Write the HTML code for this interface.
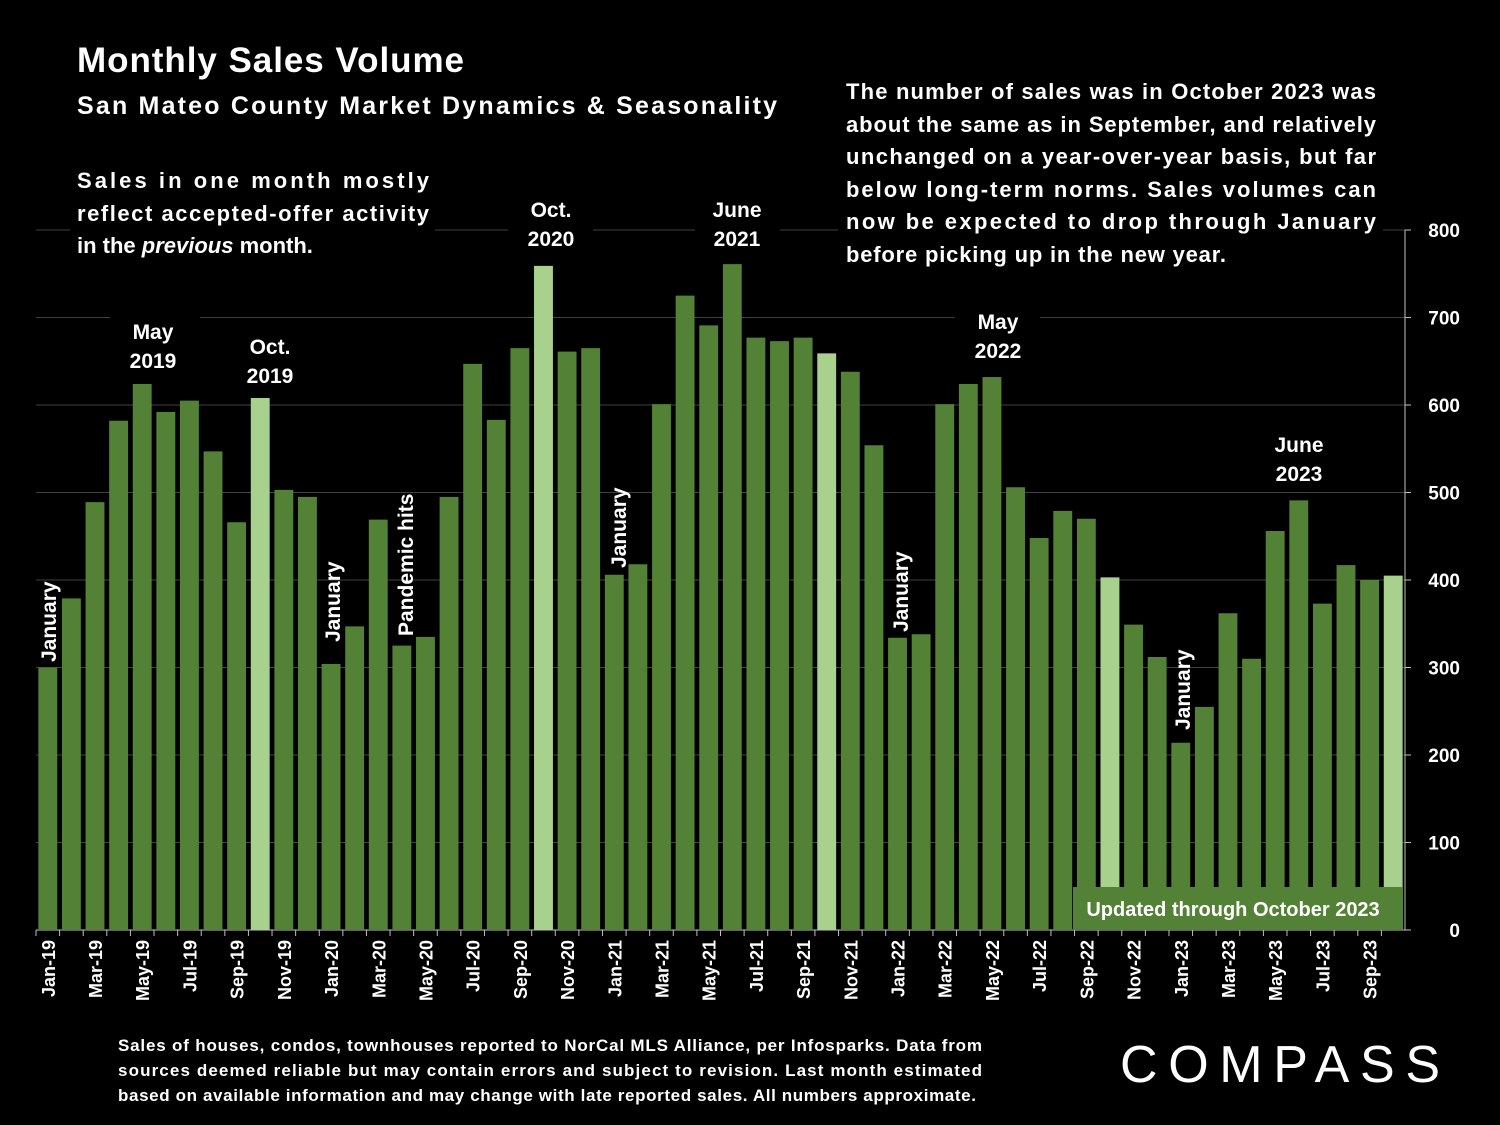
<!DOCTYPE html>
<html><head><meta charset="utf-8"><style>
html,body{margin:0;padding:0;background:#000;}
svg{display:block;font-family:"Liberation Sans",Arial,sans-serif;font-weight:bold;}
</style></head><body>
<svg id="c" width="1500" height="1125" viewBox="0 0 1500 1125">
<rect width="1500" height="1125" fill="#000"/>
<g id="grid"></g>
<g id="bars"></g>
<g id="xlab"></g>
<g id="ylab"></g>
<g id="notes" fill="#fff">
<text x="77" y="72" font-size="35" textLength="387" lengthAdjust="spacing">Monthly Sales Volume</text>
<text x="77" y="114" font-size="25" textLength="700" lengthAdjust="spacing">San Mateo County Market Dynamics &amp; Seasonality</text>
<rect x="70" y="165" width="365" height="100" fill="#000"/>
<g font-size="22">
<text x="77" y="188" textLength="352" lengthAdjust="spacing">Sales in one month mostly</text>
<text x="77" y="221" textLength="352" lengthAdjust="spacing">reflect accepted-offer activity</text>
<text x="77" y="253">in the <tspan font-style="italic">previous</tspan> month.</text>
</g>
<rect x="838" y="75" width="545" height="195" fill="#000"/>
<g font-size="22">
<text x="846" y="99" textLength="530" lengthAdjust="spacing">The number of sales was in October 2023 was</text>
<text x="846" y="132" textLength="530" lengthAdjust="spacing">about the same as in September, and relatively</text>
<text x="846" y="164" textLength="530" lengthAdjust="spacing">unchanged on a year-over-year basis, but far</text>
<text x="846" y="197" textLength="530" lengthAdjust="spacing">below long-term norms. Sales volumes can</text>
<text x="846" y="229" textLength="530" lengthAdjust="spacing">now be expected to drop through January</text>
<text x="846" y="262" textLength="380" lengthAdjust="spacing">before picking up in the new year.</text>
</g>
<g font-size="21" text-anchor="middle">
<rect x="110" y="315" width="90" height="60" fill="#000"/>
<text x="153" y="339">May</text><text x="153" y="368">2019</text>
<rect x="228" y="330" width="85" height="60" fill="#000"/>
<text x="270" y="354">Oct.</text><text x="270" y="383">2019</text>
<rect x="508" y="193" width="85" height="60" fill="#000"/>
<text x="551" y="217">Oct.</text><text x="551" y="246">2020</text>
<rect x="695" y="193" width="85" height="60" fill="#000"/>
<text x="737" y="217">June</text><text x="737" y="246">2021</text>
<rect x="955" y="305" width="85" height="60" fill="#000"/>
<text x="998" y="329">May</text><text x="998" y="358">2022</text>
<rect x="1257" y="428" width="85" height="60" fill="#000"/>
<text x="1299" y="452">June</text><text x="1299" y="481">2023</text>
</g>
<g font-size="21">
<text transform="translate(56,662) rotate(-90)">January</text>
<text transform="translate(340,642) rotate(-90)">January</text>
<text transform="translate(413,636) rotate(-90)">Pandemic hits</text>
<text transform="translate(626,568) rotate(-90)">January</text>
<text transform="translate(908,632) rotate(-90)">January</text>
<text transform="translate(1190,730) rotate(-90)">January</text>
</g>
<rect x="1073" y="887" width="330" height="43" fill="#538135"/>
<text x="1233" y="916" font-size="20" text-anchor="middle">Updated through October 2023</text>
<g font-size="17">
<text x="118" y="1051" textLength="864" lengthAdjust="spacing">Sales of houses, condos, townhouses reported to NorCal MLS Alliance, per Infosparks. Data from</text>
<text x="118" y="1076" textLength="864" lengthAdjust="spacing">sources deemed reliable but may contain errors and subject to revision. Last month estimated</text>
<text x="118" y="1101" textLength="858" lengthAdjust="spacing">based on available information and may change with late reported sales. All numbers approximate.</text>
</g>
<text x="1120" y="1082" font-size="52" font-weight="normal" textLength="320" lengthAdjust="spacing">COMPASS</text>
</g>
</svg>
<script>
const categories=["Jan-19","Feb-19","Mar-19","Apr-19","May-19","Jun-19","Jul-19","Aug-19","Sep-19","Oct-19","Nov-19","Dec-19","Jan-20","Feb-20","Mar-20","Apr-20","May-20","Jun-20","Jul-20","Aug-20","Sep-20","Oct-20","Nov-20","Dec-20","Jan-21","Feb-21","Mar-21","Apr-21","May-21","Jun-21","Jul-21","Aug-21","Sep-21","Oct-21","Nov-21","Dec-21","Jan-22","Feb-22","Mar-22","Apr-22","May-22","Jun-22","Jul-22","Aug-22","Sep-22","Oct-22","Nov-22","Dec-22","Jan-23","Feb-23","Mar-23","Apr-23","May-23","Jun-23","Jul-23","Aug-23","Sep-23","Oct-23"];
const sales=[300,379,489,582,624,592,605,547,466,608,503,495,304,347,469,325,335,495,647,583,665,759,661,665,406,418,601,725,691,761,677,673,677,659,638,554,334,338,601,624,632,506,448,479,470,403,349,312,214,255,362,310,456,491,373,417,400,405];
const highlighted=["Oct-19","Oct-20","Oct-21","Oct-22","Oct-23"];
const yTicks=[0,100,200,300,400,500,600,700,800];
const NS="http://www.w3.org/2000/svg";
const x0=36,x1=1405,y0=930,yTop=230,yMax=800;
const slot=(x1-x0)/categories.length;
const xc=i=>x0+slot*(i+0.5);
const y=v=>y0-(v/yMax)*(y0-yTop);
function mk(tag,attrs,parent){const e=document.createElementNS(NS,tag);for(const k in attrs)e.setAttribute(k,attrs[k]);parent.appendChild(e);return e;}
const grid=document.getElementById('grid'),bars=document.getElementById('bars'),xl=document.getElementById('xlab'),yl=document.getElementById('ylab');
yTicks.forEach(t=>{
  const l=mk('line',{x1:x0,x2:x1,y1:y(t),y2:y(t),stroke:t===0?'#bfbfbf':'#404040','stroke-width':1},grid);
  
  
  const tx=mk('text',{x:1460,y:y(t)+7,'font-size':19,fill:'#fff','text-anchor':'end'},yl);
  tx.textContent=t;
  
  
  mk('line',{x1:x1,x2:x1+6,y1:y(t),y2:y(t),stroke:'#bfbfbf'},yl);
});
mk('line',{x1:x1,x2:x1,y1:yTop,y2:y0,stroke:'#bfbfbf'},yl);
categories.forEach((c,i)=>{
  const bw=slot*0.8;
  const r=mk('rect',{x:xc(i)-bw/2,y:y(sales[i]),width:bw,height:y0-y(sales[i]),fill:highlighted.includes(c)?'#a9d18e':'#538135'},bars);
  
  
  if(i%2===0){
    const t=mk('text',{transform:`translate(${xc(i)+7},${y0+10}) rotate(-90)`,'font-size':18,fill:'#fff','text-anchor':'end'},xl);
    t.textContent=c;
    
    
  }
  mk('line',{x1:x0+slot*i,x2:x0+slot*i,y1:y0,y2:y0+6,stroke:'#bfbfbf'},xl);
});
</script>
</body></html>
